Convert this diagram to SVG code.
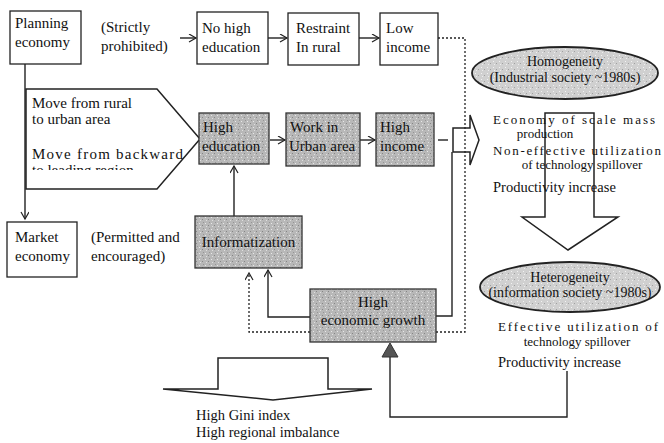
<svg xmlns="http://www.w3.org/2000/svg" width="664" height="443" viewBox="0 0 664 443">
<defs>
<style>
.t{font-family:"Liberation Serif","Times New Roman",serif;font-size:15px;fill:#111}
.s{font-family:"Liberation Serif","Times New Roman",serif;font-size:14.5px;fill:#111}
.e{font-family:"Liberation Serif","Times New Roman",serif;font-size:14px;fill:#111}
.r{font-family:"Liberation Serif","Times New Roman",serif;font-size:13px;fill:#111}
.wbox{fill:#fff;stroke:#222;stroke-width:1.3}
.gbox{fill:url(#stip);stroke:#333;stroke-width:1.3}
.ln{fill:none;stroke:#222;stroke-width:1.4}
.dot{fill:none;stroke:#222;stroke-width:1.3;stroke-dasharray:2,2}
.blk{fill:none;stroke:#222;stroke-width:1.5}
</style>
<pattern id="stip" width="6" height="6" patternUnits="userSpaceOnUse">
<rect width="6" height="6" fill="#b8b8b8"/>
<rect x="1" y="1" width="1" height="1" fill="#e8e8e8"/>
<rect x="4" y="3" width="1" height="1" fill="#858585"/>
<rect x="2" y="4" width="1" height="1" fill="#e0e0e0"/>
<rect x="5" y="0" width="1" height="1" fill="#959595"/>
</pattern>
<pattern id="stip2" width="6" height="6" patternUnits="userSpaceOnUse">
<rect width="6" height="6" fill="#d0d0d0"/>
<rect x="1" y="1" width="1" height="1" fill="#f2f2f2"/>
<rect x="4" y="3" width="1" height="1" fill="#a0a0a0"/>
<rect x="2" y="4" width="1" height="1" fill="#eee"/>
</pattern>
<marker id="oa" markerWidth="10" markerHeight="10" refX="8" refY="4" orient="auto" markerUnits="userSpaceOnUse">
<path d="M1,0 L8,4 L1,8" fill="none" stroke="#222" stroke-width="1.2"/>
</marker>
<clipPath id="clipLead"><rect x="20" y="160" width="180" height="10"/></clipPath>
<clipPath id="clipGini"><rect x="180" y="409" width="200" height="20"/></clipPath>
</defs>

<g id="connectors">
<line class="ln" x1="25" y1="64" x2="25" y2="219" marker-end="url(#oa)"/>
<line class="ln" x1="180" y1="38" x2="196" y2="38" marker-end="url(#oa)"/>
<line class="ln" x1="268" y1="38" x2="287" y2="38" marker-end="url(#oa)"/>
<line class="ln" x1="359" y1="38" x2="379" y2="38" marker-end="url(#oa)"/>
<polyline class="dot" points="438,38 465,38 465,332 436,332"/>
<line class="ln" x1="270" y1="140" x2="285" y2="140" marker-end="url(#oa)"/>
<line class="ln" x1="360" y1="140" x2="375" y2="140" marker-end="url(#oa)"/>
<line class="ln" x1="438" y1="140" x2="448" y2="140"/>
<line class="ln" x1="234" y1="216" x2="234" y2="166" marker-end="url(#oa)"/>
<polyline class="ln" points="310,317 268,317 268,270" marker-end="url(#oa)"/>
<polyline class="dot" points="310,332 249,332 249,273" marker-end="url(#oa)"/>
<polyline class="ln" points="436,316 452,316 452,152"/>
<polyline class="ln" points="567,371 567,417 390,417 390,356"/>
<polygon points="382,357 398,357 390,343" fill="#555" stroke="#333" stroke-width="1"/>
</g>

<g id="planning">
<rect class="wbox" x="10" y="11" width="71" height="53"/>
<text class="t" x="15" y="28">Planning</text>
<text class="t" x="15" y="47">economy</text>
</g>
<g id="strictly">
<text class="t" x="101" y="32">(Strictly</text>
<text class="t" x="101" y="51">prohibited)</text>
</g>
<g id="nohigh">
<rect class="wbox" x="197" y="12" width="71" height="52"/>
<text class="t" x="202" y="33">No high</text>
<text class="t" x="202" y="52">education</text>
</g>
<g id="restraint">
<rect class="wbox" x="288" y="13" width="71" height="52"/>
<text class="t" x="296" y="33">Restraint</text>
<text class="t" x="296" y="52">In rural</text>
</g>
<g id="lowincome">
<rect class="wbox" x="380" y="13" width="58" height="52"/>
<text class="t" x="386" y="33">Low</text>
<text class="t" x="386" y="52">income</text>
</g>

<g id="move">
<polygon class="blk" points="26,89 157,89 200,139 157,189 26,189" fill="#fff"/>
<text class="t" x="32" y="108">Move from rural</text>
<text class="t" x="32" y="124">to urban area</text>
<text class="t" x="32" y="159" textLength="151" lengthAdjust="spacing">Move from backward</text>
<text class="t" x="32" y="175" clip-path="url(#clipLead)">to leading region</text>
</g>

<g id="higheducation">
<rect class="gbox" x="199" y="113" width="70" height="51"/>
<text class="t" x="203" y="132">High</text>
<text class="t" x="202" y="151">education</text>
</g>
<g id="workurban">
<rect class="gbox" x="286" y="113" width="74" height="53"/>
<text class="t" x="290" y="132">Work in</text>
<text class="t" x="289" y="151">Urban area</text>
</g>
<g id="highincome">
<rect class="gbox" x="376" y="113" width="58" height="53"/>
<text class="t" x="380" y="132">High</text>
<text class="t" x="380" y="151">income</text>
</g>

<g id="market">
<rect class="wbox" x="7" y="222" width="70" height="55"/>
<text class="t" x="15" y="242">Market</text>
<text class="t" x="15" y="261">economy</text>
</g>
<g id="permitted">
<text class="t" x="91" y="242">(Permitted and</text>
<text class="t" x="91" y="261">encouraged)</text>
</g>
<g id="informatization">
<rect class="gbox" x="195" y="216" width="107" height="52"/>
<text class="t" x="248.5" y="247" text-anchor="middle">Informatization</text>
</g>
<g id="growth">
<rect class="gbox" x="310" y="289" width="126" height="53"/>
<text class="t" x="373" y="307" text-anchor="middle">High</text>
<text class="t" x="373" y="325" text-anchor="middle">economic growth</text>
</g>

<g id="smallarrow">
<polygon class="blk" points="453,128 470,128 470,115 479,140 470,165 470,152 453,152" fill="#fff"/>
</g>

<g id="bigrightarrow">
<polygon class="blk" points="545,113 594,113 594,217 618,217 568,250 522,217 545,217"/>
</g>

<g id="homogeneity">
<ellipse cx="565" cy="73" rx="93" ry="26" fill="url(#stip2)" stroke="#222" stroke-width="1.8"/>
<text class="e" x="565" y="66" text-anchor="middle">Homogeneity</text>
<text class="e" x="565" y="82" text-anchor="middle">(Industrial society ~1980s)</text>
</g>
<g id="homotext">
<text class="r" x="493" y="124" textLength="162" lengthAdjust="spacing">Economy of scale mass</text>
<text class="r" x="545" y="138" text-anchor="middle">production</text>
<text class="r" x="493" y="155" textLength="168" lengthAdjust="spacing">Non-effective utilization</text>
<text class="r" x="582" y="169" text-anchor="middle">of technology spillover</text>
<text class="s" x="493" y="192">Productivity increase</text>
</g>

<g id="heterogeneity">
<ellipse cx="570" cy="287" rx="90" ry="25" fill="url(#stip2)" stroke="#222" stroke-width="1.8"/>
<text class="e" x="570" y="282" text-anchor="middle">Heterogeneity</text>
<text class="e" x="570" y="297" text-anchor="middle">(information society ~1980s)</text>
</g>
<g id="heterotext">
<text class="r" x="498" y="331" textLength="160" lengthAdjust="spacing">Effective utilization of</text>
<text class="r" x="577" y="346" text-anchor="middle">technology spillover</text>
<text class="s" x="498" y="367">Productivity increase</text>
</g>

<g id="bottomarrow">
<polygon class="blk" points="218,358 328,358 328,389 372,389 273,400 163,389 218,389"/>
<text class="s" x="196" y="420" clip-path="url(#clipGini)">High Gini index</text>
<text class="s" x="196" y="437">High regional imbalance</text>
</g>
</svg>
